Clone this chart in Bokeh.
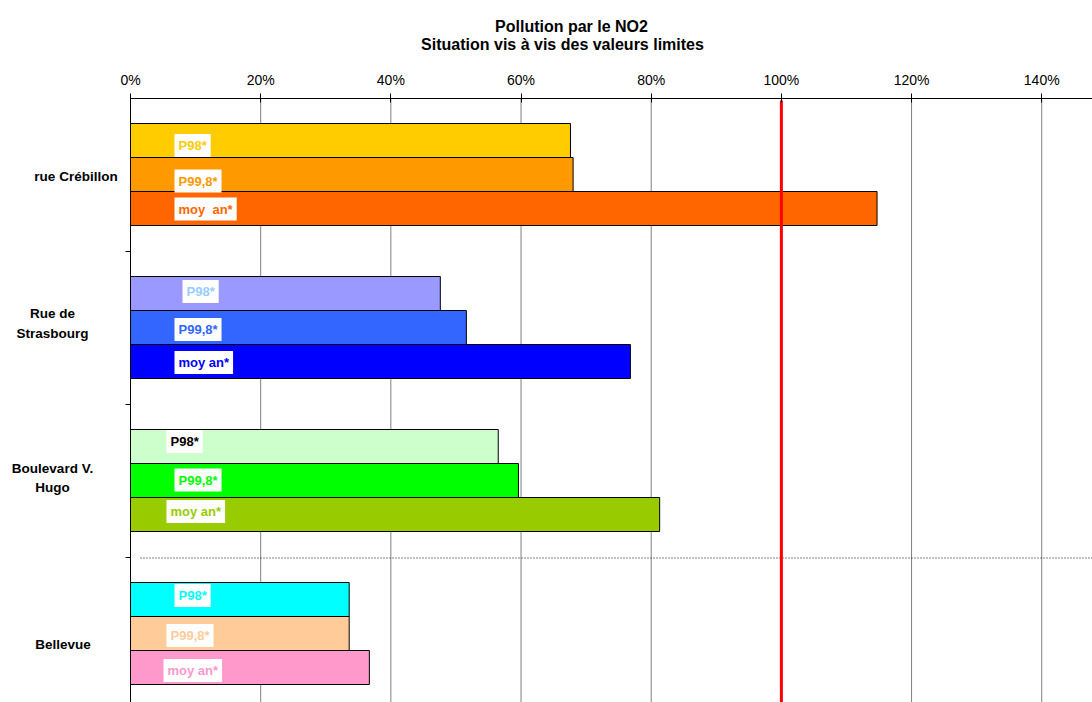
from bokeh.plotting import figure
from bokeh.models import Range1d, FixedTicker, PrintfTickFormatter, ColumnDataSource
from bokeh.embed import file_html
from bokeh.resources import INLINE
from bokeh.core.properties import value

# ---------------- data ----------------
title_lines = ["Pollution par le NO2", "Situation vis à vis des valeurs limites"]
sites = ["rue Crébillon", "Rue de\nStrasbourg", "Boulevard V.\nHugo", "Bellevue"]
series_labels = [
    ["P98*", "P99,8*", "moy\u00a0 an*"],
    ["P98*", "P99,8*", "moy an*"],
    ["P98*", "P99,8*", "moy an*"],
    ["P98*", "P99,8*", "moy an*"],
]
p98 = [67.6, 47.6, 56.5, 33.6]
p998 = [68.0, 51.6, 59.6, 33.6]
moy_an = [114.7, 76.8, 81.3, 36.7]
x_ticks = [0, 20, 40, 60, 80, 100, 120, 140]
limit_value = 100

# ---------------- styles ----------------
bar_colors = [
    ["#FFCC00", "#FF9900", "#FF6600"],
    ["#9999FF", "#3366FF", "#0000FF"],
    ["#CCFFCC", "#00FF00", "#99CC00"],
    ["#00FFFF", "#FFCC99", "#FF99CC"],
]
label_colors = [
    ["#FFCC00", "#FF9900", "#FF6600"],
    ["#99CCFF", "#3366FF", "#0000FF"],
    ["#000000", "#00FF00", "#99CC00"],
    ["#00FFFF", "#FFCC99", "#FF99CC"],
]
# label / text positions (screen px) -- layout only
label_px_x = [[174, 174, 174], [182, 174, 174], [166, 174, 166], [174, 166, 163]]
label_px_y = [[145, 180.5, 208.5], [291, 329, 362], [441, 479.5, 511], [595, 635, 670]]
site_px = [(75.5, 176), (52, 323), (52, 477.5), (62.5, 644)]
title_px = [(571, 26), (562, 44)]

FONT = "Liberation Sans"
W, H = 1092, 702
X0, Y0 = 130, 98           # plot-area left / top in px
XMAX = 147.8
PXU = (W - X0) / XMAX      # px per percent
GH = 153.0                 # px per group
YMAX = (H - Y0) / GH


def dx(px):
    return (px - X0) / PXU


def dy(py):
    return (py - Y0) / GH


p = figure(width=W, height=H, output_backend="svg", toolbar_location=None,
           x_range=Range1d(dx(0), XMAX), y_range=Range1d(YMAX, dy(0)),
           x_axis_location="above", y_axis_location="left", title=None,
           min_border=0, min_border_left=0, min_border_right=0,
           min_border_top=0, min_border_bottom=0)
p.outline_line_color = None
p.background_fill_color = "white"
p.border_fill_color = "white"
p.xgrid.visible = False
p.ygrid.visible = False

# x axis (top) fixed at the plot-area top
xa = p.xaxis[0]
xa.fixed_location = 0
xa.bounds = (0, XMAX)
xa.ticker = FixedTicker(ticks=x_ticks)
xa.formatter = PrintfTickFormatter(format="%d%%")
xa.major_label_text_font = FONT
xa.major_label_text_font_size = "14px"
xa.major_label_text_color = "black"
xa.axis_line_color = "black"
xa.major_tick_line_color = "black"
xa.major_tick_out = 5
xa.major_tick_in = 4
xa.minor_tick_out = 0
xa.minor_tick_in = 0
xa.major_label_standoff = 6

# y axis (left) – only boundary ticks
ya = p.yaxis[0]
ya.fixed_location = 0
ya.bounds = (0, YMAX)
ya.ticker = FixedTicker(ticks=[], minor_ticks=[1, 2, 3])
ya.major_label_text_font_size = "0px"
ya.axis_line_color = "black"
ya.minor_tick_line_color = "black"
ya.minor_tick_out = 5
ya.minor_tick_in = 0
ya.major_tick_out = 0
ya.major_tick_in = 0

# vertical grid lines (plot area only)
gx = [t for t in x_ticks if t > 0]
p.segment(x0=gx, y0=[0] * len(gx), x1=gx, y1=[YMAX] * len(gx),
          line_color="#808080", line_width=1)

# bars
ys, rights, fills, lxs, lys, ltxt, lcol = [], [], [], [], [], [], []
bar_h = 34 / GH
for k in range(len(sites)):
    vals = [p98[k], p998[k], moy_an[k]]
    for j in range(3):
        ys.append(k + 25 / GH + bar_h / 2 + j * bar_h)
        rights.append(vals[j])
        fills.append(bar_colors[k][j])
        lxs.append(dx(label_px_x[k][j]))
        lys.append(dy(label_px_y[k][j]))
        ltxt.append(series_labels[k][j])
        lcol.append(label_colors[k][j])

src = ColumnDataSource(dict(y=ys, right=rights, fill=fills))
p.hbar(y="y", left=0, right="right", height=bar_h, fill_color="fill",
       line_color="black", line_width=1, source=src)

# dotted separator (half-pixel offset for a crisp line)
sep_y = 3 + 0.5 / GH
p.segment(x0=[dx(140)], y0=[sep_y], x1=[XMAX], y1=[sep_y], line_color="black",
          line_width=1, line_dash="1 2")

# limit line (100 %)
p.segment(x0=[limit_value], y0=[dy(100)], x1=[limit_value], y1=[YMAX],
          line_color="#FF0000", line_width=3)

# bar labels
lsrc = ColumnDataSource(dict(x=lxs, y=lys, text=ltxt, color=lcol))
p.text(x="x", y="y", text="text", text_color="color", source=lsrc,
       text_font=value(FONT), text_font_style="bold", text_font_size="13px",
       text_align="left", text_baseline="middle",
       background_fill_color="white", padding=4)

# category labels
p.text(x=[dx(c[0]) for c in site_px], y=[dy(c[1]) for c in site_px], text=sites,
       text_align="center", text_baseline="middle", text_font=value(FONT),
       text_font_style="bold", text_font_size="13.5px", text_line_height=1.3,
       text_color="black")

# title
p.text(x=[dx(c[0]) for c in title_px], y=[dy(c[1]) for c in title_px], text=title_lines,
       text_align="center", text_baseline="alphabetic", text_font=value(FONT),
       text_font_style="bold", text_font_size="16px", text_color="black")

open("out.html", "w").write(file_html(p, INLINE))
